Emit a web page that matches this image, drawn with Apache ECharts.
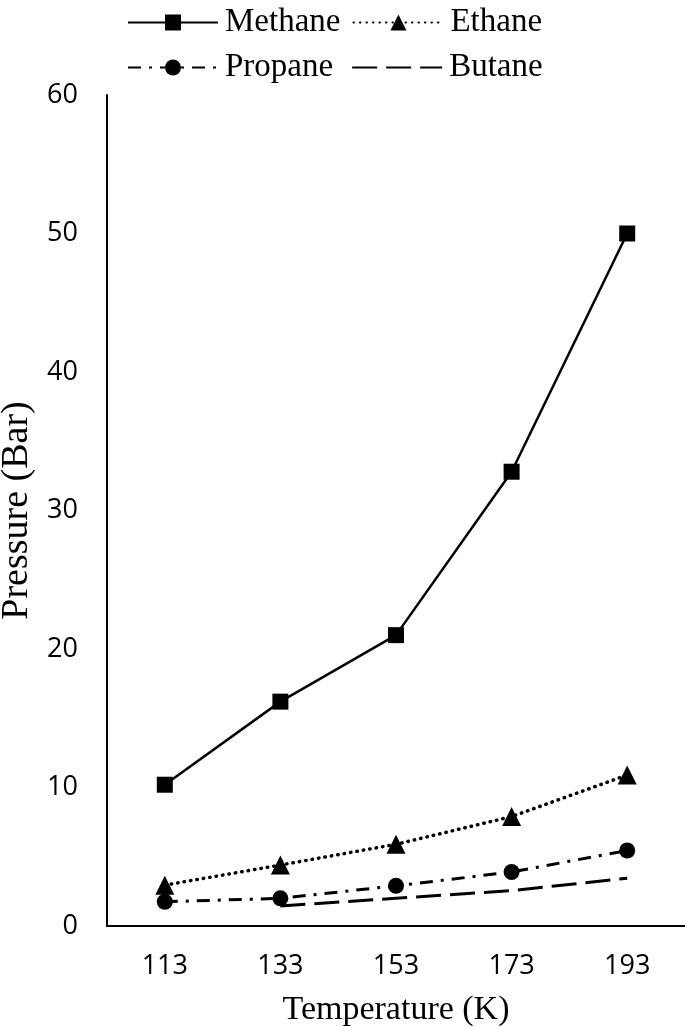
<!DOCTYPE html>
<html>
<head>
<meta charset="utf-8">
<script src="https://cdn.jsdelivr.net/npm/echarts@6/dist/echarts.min.js"></script>
<style>
  html, body { margin: 0; padding: 0; background: #fff; }
  #main { width: 685px; height: 1027px; }
</style>
</head>
<body>
<div id="main"></div>
<script>
// temperatures on the x axis (K)
var temps = ['113', '133', '153', '173', '193'];
// pressures (bar)
var methane = [10.2, 16.2, 21.0, 32.8, 50.0];
var ethane = [2.95, 4.4, 5.9, 7.9, 10.9];
var propane = [1.75, 2.0, 2.9, 3.9, 5.45];
var butane = [null, 1.45, 2.0, 2.55, 3.45];

var serif = '"Liberation Serif", "Times New Roman", serif';
var sans = '"Open Sans", "Noto Sans", sans-serif';

var chart = echarts.init(document.getElementById('main'));

function legendRow(names, top, gap) {
  return {
    data: names,
    top: top,
    left: 122,
    itemWidth: 90,
    itemHeight: 20,
    itemGap: gap,
    selectedMode: false,
    textStyle: { fontFamily: serif, fontSize: 33, color: '#000', padding: [0, 0, 0, 2] }
  };
}

chart.setOption({
  animation: false,
  backgroundColor: '#fff',
  legend: [
    legendRow(['Methane', 'Ethane'], 1, 12),
    // butane has no markers, so hide the legend symbol
    legendRow(['Propane', { name: 'Butane', itemStyle: { opacity: 0 } }], 46, 18)
  ],
  grid: { left: 107, right: 0, top: 95, bottom: 101, containLabel: false, outerBoundsMode: 'none' },
  xAxis: {
    type: 'category',
    data: temps,
    boundaryGap: true,
    name: 'Temperature (K)',
    nameLocation: 'middle',
    nameGap: 67,
    nameTextStyle: { fontFamily: serif, fontSize: 34, color: '#000' },
    axisLine: { lineStyle: { color: '#000', width: 2 } },
    axisTick: { show: false },
    axisLabel: { margin: 27, fontFamily: sans, fontSize: 27, color: '#000' }
  },
  yAxis: {
    type: 'value',
    min: 0,
    max: 60,
    interval: 10,
    name: 'Pressure (Bar)',
    nameLocation: 'middle',
    nameGap: 70,
    nameTextStyle: { fontFamily: serif, fontSize: 38, color: '#000' },
    axisLine: { show: true, lineStyle: { color: '#000', width: 2 } },
    axisTick: { show: false },
    splitLine: { show: false },
    axisLabel: { margin: 29, fontFamily: sans, fontSize: 27, color: '#000' }
  },
  series: [
    {
      name: 'Methane', type: 'line', data: methane,
      symbol: 'rect', symbolSize: 16,
      itemStyle: { color: '#000' },
      lineStyle: { color: '#000', width: 2.5, type: 'solid' }
    },
    {
      name: 'Ethane', type: 'line', data: ethane,
      symbol: 'triangle', symbolSize: 19,
      itemStyle: { color: '#000' },
      lineStyle: { color: '#000', width: 3.5, type: [0.5, 6], cap: 'round' }
    },
    {
      name: 'Propane', type: 'line', data: propane,
      symbol: 'circle', symbolSize: 16,
      itemStyle: { color: '#000' },
      lineStyle: { color: '#000', width: 3, type: [13, 8, 3, 8] }
    },
    {
      name: 'Butane', type: 'line', data: butane,
      symbol: 'none', showSymbol: false,
      itemStyle: { color: '#000' },
      lineStyle: { color: '#000', width: 3, type: [25, 9] }
    }
  ]
});
</script>
</body>
</html>
